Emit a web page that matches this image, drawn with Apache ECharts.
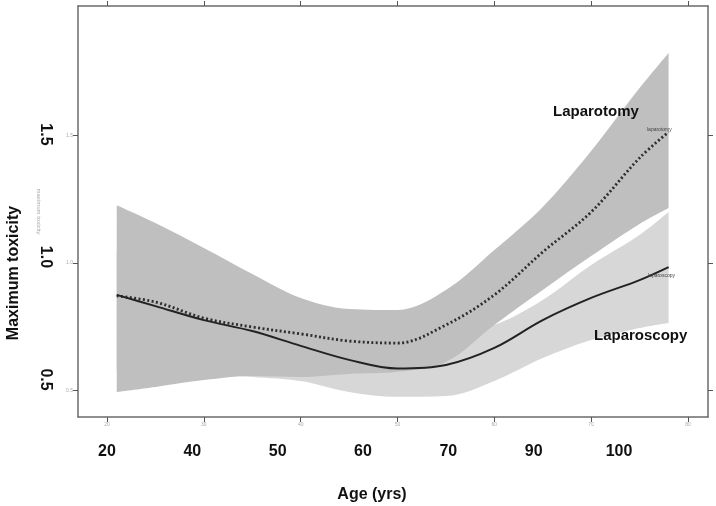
<!DOCTYPE html>
<html>
<head>
<meta charset="utf-8">
<script src="https://cdn.jsdelivr.net/npm/echarts@6/dist/echarts.min.js"></script>
<style>html,body{margin:0;padding:0;background:#fff}#c{width:716px;height:506px}</style>
</head>
<body>
<div id="c"></div>
<script>
// ---- data ----
const ages = [21, 25, 30, 35, 40, 45, 50, 55, 60, 65, 70, 75, 78];
const laparotomyFit   = [0.871, 0.847, 0.784, 0.749, 0.722, 0.694, 0.686, 0.757, 0.875, 1.043, 1.200, 1.412, 1.514];
const laparotomyUpper = [1.227, 1.157, 1.059, 0.957, 0.863, 0.820, 0.816, 0.894, 1.051, 1.220, 1.439, 1.686, 1.824];
const laparotomyLower = [0.494, 0.514, 0.541, 0.557, 0.553, 0.565, 0.573, 0.612, 0.757, 0.894, 1.027, 1.153, 1.216];
const laparoscopyFit   = [0.875, 0.831, 0.776, 0.733, 0.675, 0.620, 0.586, 0.600, 0.667, 0.776, 0.863, 0.933, 0.984];
const laparoscopyUpper = [1.050, 1.012, 0.933, 0.855, 0.796, 0.757, 0.737, 0.718, 0.757, 0.855, 0.992, 1.110, 1.200];
const laparoscopyLower = [0.580, 0.573, 0.565, 0.553, 0.537, 0.494, 0.475, 0.478, 0.537, 0.627, 0.698, 0.745, 0.765];

const xTickValues = [20, 30, 40, 50, 60, 70, 80];
const xTickLabels = ['20', '30', '40', '50', '60', '70', '80'];
const bigXLabels = ['20', '40', '50', '60', '70', '90', '100'];
const yTickValues = [0.5, 1.0, 1.5];
const yTickLabels = ['0.5', '1.0', '1.5'];

// ---- build ----
const pairs = (xs, ys) => xs.map((x, i) => [x, ys[i]]);
// [y, x] order so that stacking happens on the y dimension
const yxPairs = (xs, ys) => xs.map((x, i) => [ys[i], x]);
const diffs = (up, lo) => up.map((u, i) => +(u - lo[i]).toFixed(3));
const yLabel = v => { const i = yTickValues.findIndex(t => Math.abs(t - v) < 1e-6); return i >= 0 ? yTickLabels[i] : ''; };
const xLabel = v => { const i = xTickValues.findIndex(t => Math.abs(t - v) < 1e-6); return i >= 0 ? xTickLabels[i] : ''; };

const axisLineStyle = { color: '#6b6b6b', width: 1.5 };
const FONT = '"Liberation Sans", Arial, Helvetica, sans-serif';
const SMOOTH = 0.35;

function band(name, lower, upper, color) {
  return [
    { name: name + 'Lo', type: 'line', stack: name, data: yxPairs(ages, lower), encode: { x: 1, y: 0 },
      smooth: SMOOTH, symbol: 'none', lineStyle: { opacity: 0 }, silent: true },
    { name: name + 'Band', type: 'line', stack: name, data: yxPairs(ages, diffs(upper, lower)), encode: { x: 1, y: 0 },
      smooth: SMOOTH, symbol: 'none', lineStyle: { opacity: 0 }, areaStyle: { color: color, opacity: 1 }, silent: true }
  ];
}

const chart = echarts.init(document.getElementById('c'), null, { renderer: 'canvas' });
chart.setOption({
  animation: false,
  backgroundColor: '#fff',
  grid: [
    { left: 78, right: 8, top: 6, bottom: 89 },
    { left: 107, right: 97, top: 400, bottom: 76 }
  ],
  xAxis: [
    { type: 'value', gridIndex: 0, min: 17, max: 82.07, position: 'bottom',
      axisLine: { show: true, lineStyle: axisLineStyle },
      axisTick: { show: true, inside: false, length: 5, lineStyle: { color: '#555' }, customValues: xTickValues },
      axisLabel: { show: true, fontSize: 5, color: '#aaa', margin: 5, customValues: xTickValues, formatter: xLabel, fontFamily: FONT },
      splitLine: { show: false } },
    { type: 'value', gridIndex: 0, min: 17, max: 82.07, position: 'top',
      axisLine: { show: true, lineStyle: axisLineStyle },
      axisTick: { show: true, inside: false, length: 5, lineStyle: { color: '#555' }, customValues: xTickValues },
      axisLabel: { show: false }, splitLine: { show: false } },
    { type: 'category', gridIndex: 1, data: bigXLabels, boundaryGap: false, position: 'bottom',
      axisLine: { show: false }, axisTick: { show: false },
      axisLabel: { fontSize: 16, fontWeight: 'bold', color: '#111', margin: 14, fontFamily: FONT, interval: 0 } }
  ],
  yAxis: [
    { type: 'value', gridIndex: 0, min: 0.396, max: 2.008, position: 'left',
      axisLine: { show: true, lineStyle: axisLineStyle },
      axisTick: { show: true, inside: false, length: 5, lineStyle: { color: '#555' }, customValues: yTickValues },
      axisLabel: { show: true, fontSize: 5, color: '#aaa', margin: 5, customValues: yTickValues, formatter: yLabel, fontFamily: FONT },
      name: 'maximum toxicity', nameLocation: 'middle', nameRotate: -90, nameGap: 36,
      nameTextStyle: { fontSize: 6, color: '#aaa', fontFamily: FONT },
      splitLine: { show: false } },
    { type: 'value', gridIndex: 0, min: 0.347, max: 2.024, position: 'left',
      axisLine: { show: false }, axisTick: { show: false },
      axisLabel: { show: true, rotate: -90, fontSize: 16, fontWeight: 'bold', color: '#111', margin: 25,
        customValues: yTickValues, formatter: yLabel, fontFamily: FONT },
      splitLine: { show: false } },
    { type: 'value', gridIndex: 0, min: 0.396, max: 2.008, position: 'right',
      axisLine: { show: true, lineStyle: axisLineStyle },
      axisTick: { show: true, inside: false, length: 5, lineStyle: { color: '#555' }, customValues: yTickValues },
      axisLabel: { show: false }, splitLine: { show: false } },
    { type: 'value', gridIndex: 1, show: false }
  ],
  series: [
    ...band('scopy', laparoscopyLower, laparoscopyUpper, '#d7d7d7'),
    ...band('tomy', laparotomyLower, laparotomyUpper, '#bfbfbf'),
    { name: 'Laparotomy', type: 'line', data: pairs(ages, laparotomyFit), smooth: SMOOTH, symbol: 'none',
      lineStyle: { color: '#2e2e2e', width: 2.8, type: [2, 2.4] }, z: 5 },
    { name: 'Laparoscopy', type: 'line', data: pairs(ages, laparoscopyFit), smooth: SMOOTH, symbol: 'none',
      lineStyle: { color: '#222', width: 2 }, z: 5 }
  ],
  graphic: [
    { type: 'text', z: 10, style: { text: 'Laparotomy', x: 553, y: 112, textVerticalAlign: 'middle',
      font: 'bold 15px ' + FONT, fill: '#111' } },
    { type: 'text', z: 10, style: { text: 'Laparoscopy', x: 594, y: 336, textVerticalAlign: 'middle',
      font: 'bold 15px ' + FONT, fill: '#111' } },
    { type: 'text', z: 10, style: { text: 'laparotomy', x: 647, y: 130, textVerticalAlign: 'middle',
      font: '5px ' + FONT, fill: '#444' } },
    { type: 'text', z: 10, style: { text: 'laparoscopy', x: 648, y: 276, textVerticalAlign: 'middle',
      font: '5px ' + FONT, fill: '#444' } },
    { type: 'text', z: 10, x: 14, y: 273, rotation: Math.PI / 2,
      style: { text: 'Maximum toxicity', x: 0, y: 0, textAlign: 'center', textVerticalAlign: 'middle',
      font: 'bold 16px ' + FONT, fill: '#111' } },
    { type: 'text', z: 10, style: { text: 'Age (yrs)', x: 372, y: 495, textAlign: 'center', textVerticalAlign: 'middle',
      font: 'bold 16px ' + FONT, fill: '#111' } }
  ]
});
</script>
</body>
</html>
